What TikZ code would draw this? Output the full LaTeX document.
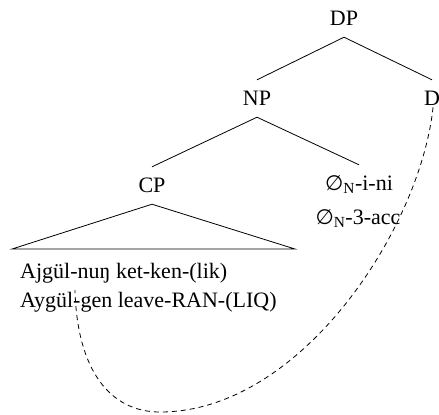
\documentclass[tikz,border=0pt]{standalone}
\usepackage{fontspec}
\setmainfont{Liberation Serif}
\newfontfamily\nullsetfont{DejaVu Sans}
\newcommand{\nulN}{{\nullsetfont\fontsize{21bp}{24bp}\selectfont ∅}\textsubscript{N}}
\begin{document}
\begin{tikzpicture}[x=1bp,y=-1bp,
  lbl/.style={font=\fontsize{22bp}{26bp}\selectfont, text height=15bp,
    text depth=2bp, inner xsep=0pt, inner ysep=10bp, anchor=base},
  gl/.style={font=\fontsize{22bp}{26bp}\selectfont, inner sep=0pt},
  edge/.style={line width=0.8bp},
  trace/.style={line width=0.8bp, dash pattern=on 5bp off 4bp}]
\useasboundingbox (0,0) rectangle (439,414);

% tree labels
\node[lbl] (DP) at (344,25) {DP};
\node[lbl] (NP) at (257,105) {NP};
\node[lbl] (D) at (432,105) {D};
\node[lbl] (CP) at (152,192) {CP};
\node[lbl] (nul) at (359,190) {\nulN-i-ni};
\node[gl, anchor=base] (nulgl) at (358,224) {\nulN-3-acc};

% clause under the triangle and its gloss
\node[gl, anchor=base west] (g1) at (20,278) {Ajgül-nuŋ ket-ken-(lik)};
\node[gl, anchor=base west] (g2) at (20,307) {Aygül-gen leave-RAN-(LIQ)};

% branches
\draw[edge] (DP.south) -- (NP.north);
\draw[edge] (DP.south) -- (D.north);
\draw[edge] (NP.south) -- (CP.north);
\draw[edge] (NP.south) -- (nul.north);

% triangle over the clause
\coordinate (tl) at (12,249);
\coordinate (tr) at (295,249);
\draw[edge] (tl) -- (CP.south) -- (tr) -- cycle;

% dependency from D down to the clause
\coordinate (gap) at (75,290);
\draw[trace, shorten <=-10bp] (D.south) .. controls (420,230) and (300,412) .. (160,412)
  .. controls (110,412) and (77,370) .. (gap);
\end{tikzpicture}
\end{document}
